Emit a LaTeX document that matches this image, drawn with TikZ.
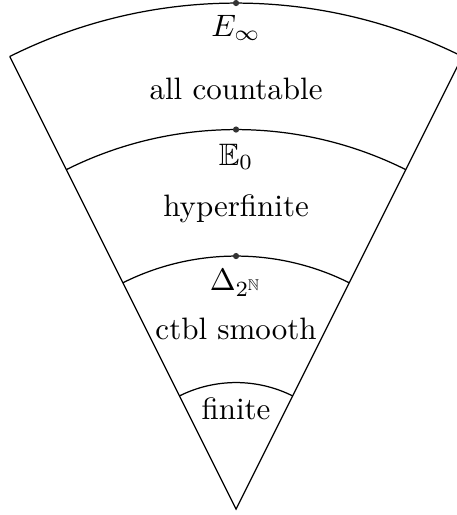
\documentclass[tikz,border=0pt]{standalone}
\usepackage{amssymb}
\begin{document}
\begin{tikzpicture}[x=1.435cm,y=1.435cm,
  dot/.style={circle,fill=black!80,inner sep=0pt,minimum size=2pt},
  lbl/.style={anchor=base,inner sep=0pt}]
\useasboundingbox (-1.866,-0.047) rectangle (1.739,4.024);
\coordinate (O) at (0,0);
\coordinate (L) at (116.565:4);
\coordinate (R) at (63.435:4);
\draw (L) -- (O) -- (R);
\foreach \r in {1,2,3,4}
  \draw (63.435:\r) arc[start angle=63.435, end angle=116.565, radius=\r*1.435cm];
\node[dot] (d4) at (90:4) {};
\node[dot] (d3) at (90:3) {};
\node[dot] (d2) at (90:2) {};
\node[lbl] (einf) at (0,3.739) {$E_\infty$};
\node[lbl] (allc) at (0,3.239) {all countable};
\node[lbl] (ezero) at (0,2.719) {$\mathbb{E}_0$};
\node[lbl] (hyp) at (0,2.311) {hyperfinite};
\node[lbl] (delta) at (0,1.726) {$\Delta_{2^{\mathbb{N}}}$};
\node[lbl] (smooth) at (0,1.341) {ctbl smooth};
\node[lbl] (fin) at (0,0.704) {finite};
\end{tikzpicture}
\end{document}
